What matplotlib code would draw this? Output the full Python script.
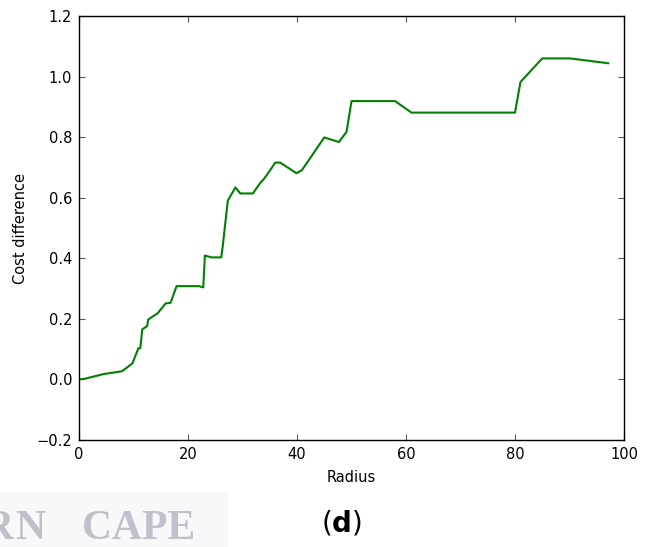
import matplotlib
matplotlib.use("Agg")
import matplotlib.pyplot as plt
from matplotlib.patches import Rectangle

radius = [0, 1, 4.6, 7.9, 9.8, 10.9, 11.25, 11.6, 12.5, 12.7, 14.4, 15.9, 16.8, 17.9,
          22.0, 22.8, 23.1, 24.3, 26.1, 26.4, 27.3, 28.7, 29.6, 31.9, 33.3, 33.9,
          35.0, 36.0, 36.9, 39.9, 40.9, 45.0, 47.7, 49.1, 50.0, 58.0, 61.0, 80.0,
          81.0, 85.0, 90.1, 97.1]
cost_diff = [0.0, 0.002, 0.018, 0.027, 0.053, 0.103, 0.103, 0.165, 0.176, 0.198, 0.218,
             0.251, 0.253, 0.308, 0.308, 0.304, 0.409, 0.403, 0.403, 0.444, 0.590, 0.634,
             0.614, 0.614, 0.650, 0.661, 0.689, 0.716, 0.716, 0.681, 0.691, 0.799, 0.784,
             0.818, 0.919, 0.919, 0.881, 0.881, 0.982, 1.060, 1.060, 1.044]
x_ticks = [0, 20, 40, 60, 80, 100]
y_ticks = [-0.2, 0.0, 0.2, 0.4, 0.6, 0.8, 1.0, 1.2]

fig = plt.figure(figsize=(6.5, 5.47), dpi=100)
ax = fig.add_axes([79/650, 107/547, 545/650, 424/547])
ax.plot(radius, cost_diff, color=(0, 0.5, 0), lw=1.5)
ax.set_xlim(0, 100)
ax.set_ylim(-0.2, 1.2)
ax.set_xticks(x_ticks)
ax.set_yticks(y_ticks)
ax.set_yticklabels(["\u22120.2" if v < 0 else f"{v:.1f}" for v in y_ticks])
ax.tick_params(direction="in", top=True, right=True, length=4, width=0.8,
               labelsize=10.5, color="#555555", pad=5)
for s in ax.spines.values():
    s.set_linewidth(1.0)
ax.set_xlabel("Radius", fontsize=10.5)
ax.set_ylabel("Cost difference", fontsize=10.5)
ax.yaxis.set_label_coords(-0.094, 0.5)
ax.xaxis.set_label_coords(0.5, -0.071)

fig.patches.append(Rectangle((0, 0), 228/650, 55/547, transform=fig.transFigure,
                             facecolor="#f8f8fa", edgecolor="none", zorder=0))
wm = dict(fontsize=30, family="Liberation Serif", weight="bold", color="#c0c0cd",
          va="baseline")
fig.text(13/650, 8/547, "R", ha="right", **wm)
fig.text(15/650, 8/547, "N", ha="left", **wm)
fig.text(82/650, 8/547, "CAPE", ha="left", **wm)
fig.text(342/650, 24/547, r"$(\mathbf{d})$", fontsize=20, ha="center", va="center")

fig.savefig("out.png", dpi=100)
